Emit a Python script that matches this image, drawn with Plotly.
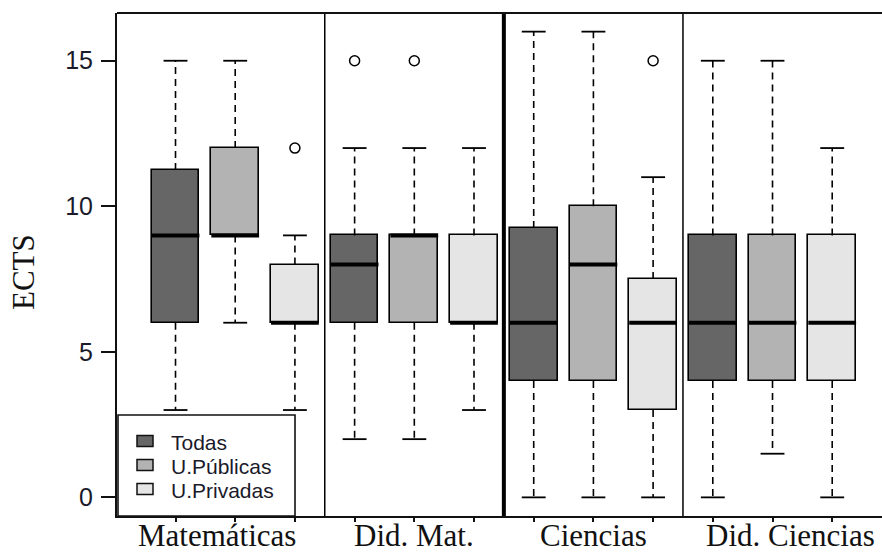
import plotly.graph_objects as go

# ---------------- data ----------------
groups = ["Matemáticas", "Did. Mat.", "Ciencias", "Did. Ciencias"]
group_label_pos = [1.7, 5, 8, 11.3]
series = ["Todas", "U.Públicas", "U.Privadas"]
colors = ["#666666", "#B3B3B3", "#E5E5E5"]

# per series, values for the 4 groups
lower_whisker = {
    "Todas":      [3, 2, 0, 0],
    "U.Públicas": [6, 2, 0, 1.5],
    "U.Privadas": [3, 3, 0, 0],
}
q1 = {
    "Todas":      [6, 6, 4, 4],
    "U.Públicas": [9, 6, 4, 4],
    "U.Privadas": [6, 6, 3, 4],
}
median = {
    "Todas":      [9, 8, 6, 6],
    "U.Públicas": [9, 9, 8, 6],
    "U.Privadas": [6, 6, 6, 6],
}
q3 = {
    "Todas":      [11.25, 9, 9.25, 9],
    "U.Públicas": [12, 9, 10, 9],
    "U.Privadas": [8, 9, 7.5, 9],
}
upper_whisker = {
    "Todas":      [15, 12, 16, 15],
    "U.Públicas": [15, 12, 16, 15],
    "U.Privadas": [9, 12, 11, 12],
}
outliers = {
    "Todas":      [[], [15], [], []],
    "U.Públicas": [[], [15], [], []],
    "U.Privadas": [[12], [], [15], []],
}
y_ticks = [0, 5, 10, 15]

# ---------------- figure ----------------
W, H = 882, 555
ML, MR, MT, MB = 117, 0, 13, 39
PW, PH = W - ML - MR, H - MT - MB
BOXW = 0.8
CAPW = 0.4
nser = len(series)

fig = go.Figure()

for si, s in enumerate(series):
    pos = [gi * nser + si + 1 for gi in range(len(groups))]
    # whiskers (dashed)
    wx, wy = [], []
    for gi, p in enumerate(pos):
        wx += [p, p, None, p, p, None]
        wy += [q3[s][gi], upper_whisker[s][gi], None, q1[s][gi], lower_whisker[s][gi], None]
    fig.add_trace(go.Scatter(x=wx, y=wy, mode="lines", showlegend=False, hoverinfo="skip",
                             line=dict(color="black", width=1.6, dash="7px,5px")))
    # caps
    cx, cy = [], []
    for gi, p in enumerate(pos):
        cx += [p - CAPW / 2, p + CAPW / 2, None, p - CAPW / 2, p + CAPW / 2, None]
        cy += [upper_whisker[s][gi]] * 2 + [None] + [lower_whisker[s][gi]] * 2 + [None]
    fig.add_trace(go.Scatter(x=cx, y=cy, mode="lines", showlegend=False, hoverinfo="skip",
                             line=dict(color="black", width=1.8)))
    # boxes
    fig.add_trace(go.Bar(x=pos, base=q1[s], y=[b - a for a, b in zip(q1[s], q3[s])],
                         width=BOXW, name=s, showlegend=False,
                         marker=dict(color=colors[si], line=dict(color="black", width=1.6))))
    # medians
    mx, my = [], []
    for gi, p in enumerate(pos):
        mx += [p - BOXW / 2, p + BOXW / 2, None]
        my += [median[s][gi]] * 2 + [None]
    fig.add_trace(go.Scatter(x=mx, y=my, mode="lines", showlegend=False, hoverinfo="skip",
                             line=dict(color="black", width=4)))
    # outliers
    ox, oy = [], []
    for gi, p in enumerate(pos):
        for v in outliers[s][gi]:
            ox.append(p)
            oy.append(v)
    if ox:
        fig.add_trace(go.Scatter(x=ox, y=oy, mode="markers", showlegend=False, hoverinfo="skip",
                                 marker=dict(symbol="circle-open", size=10, color="black",
                                             line=dict(width=1.5))))

shapes = []
# group separators
sep_widths = [1.5, 4, 1.5]
for k in range(1, len(groups)):
    xs = k * nser + 0.5
    shapes.append(dict(type="line", xref="x", yref="paper", x0=xs, x1=xs, y0=0, y1=1,
                       line=dict(color="black", width=sep_widths[k - 1])))
# top frame line
shapes.append(dict(type="line", xref="paper", yref="paper", x0=0, x1=1, y0=1, y1=1,
                   line=dict(color="#111", width=2)))

# custom legend
def px_x(px):
    return (px - ML) / PW

def px_y(py):
    return (H - MB - py) / PH

shapes.append(dict(type="rect", xref="paper", yref="paper",
                   x0=px_x(118), x1=px_x(295), y0=0, y1=px_y(415),
                   line=dict(color="#111", width=1.6), fillcolor="white", layer="above"))
annotations = []
row_y = [441, 465, 489]
for si, s in enumerate(series):
    shapes.append(dict(type="rect", xref="paper", yref="paper",
                       x0=px_x(137), x1=px_x(153), y0=px_y(row_y[si] + 5.5), y1=px_y(row_y[si] - 5.5),
                       line=dict(color="#111", width=1.5), fillcolor=colors[si], layer="above"))
    annotations.append(dict(xref="paper", yref="paper", x=px_x(169), y=px_y(row_y[si] + 1),
                            text=s, showarrow=False, xanchor="left", yanchor="middle",
                            font=dict(family="Liberation Sans, Arial", size=21, color="#1a1a2a")))

# group labels
for g, p in zip(groups, group_label_pos):
    annotations.append(dict(xref="x", yref="paper", x=p, y=0, yshift=0, text=g,
                            showarrow=False, xanchor="center", yanchor="top",
                            font=dict(family="Liberation Serif, Times New Roman", size=31, color="#111")))
# y title
annotations.append(dict(xref="paper", yref="paper", x=px_x(23), y=px_y(272), text="ECTS",
                        textangle=-90, showarrow=False, xanchor="center", yanchor="middle",
                        font=dict(family="Liberation Serif, Times New Roman", size=31, color="#111")))

x_left = 0.02
x_right = x_left + PW / 59.7

fig.update_layout(
    width=W, height=H,
    margin=dict(l=ML, r=MR, t=MT, b=MB, pad=0),
    paper_bgcolor="white", plot_bgcolor="white",
    barmode="overlay", bargap=0,
    shapes=shapes, annotations=annotations,
    xaxis=dict(range=[x_left, x_right], tickvals=list(range(1, len(groups) * nser + 1)),
               ticktext=[""] * (len(groups) * nser), ticks="outside", ticklen=4, tickwidth=1.5,
               tickcolor="#111", showline=True, linecolor="#111", linewidth=2,
               showgrid=False, zeroline=False, fixedrange=True),
    yaxis=dict(range=[-0.64, 16.64], tickvals=y_ticks, ticks="outside", ticklen=14, tickwidth=1.5,
               tickcolor="#111", showline=True, linecolor="#111", linewidth=2,
               showgrid=False, zeroline=False, ticklabelstandoff=3,
               tickfont=dict(family="Liberation Sans, Arial", size=25, color="#1a1a2a")),
    showlegend=False,
)

fig.write_html("out.html")
